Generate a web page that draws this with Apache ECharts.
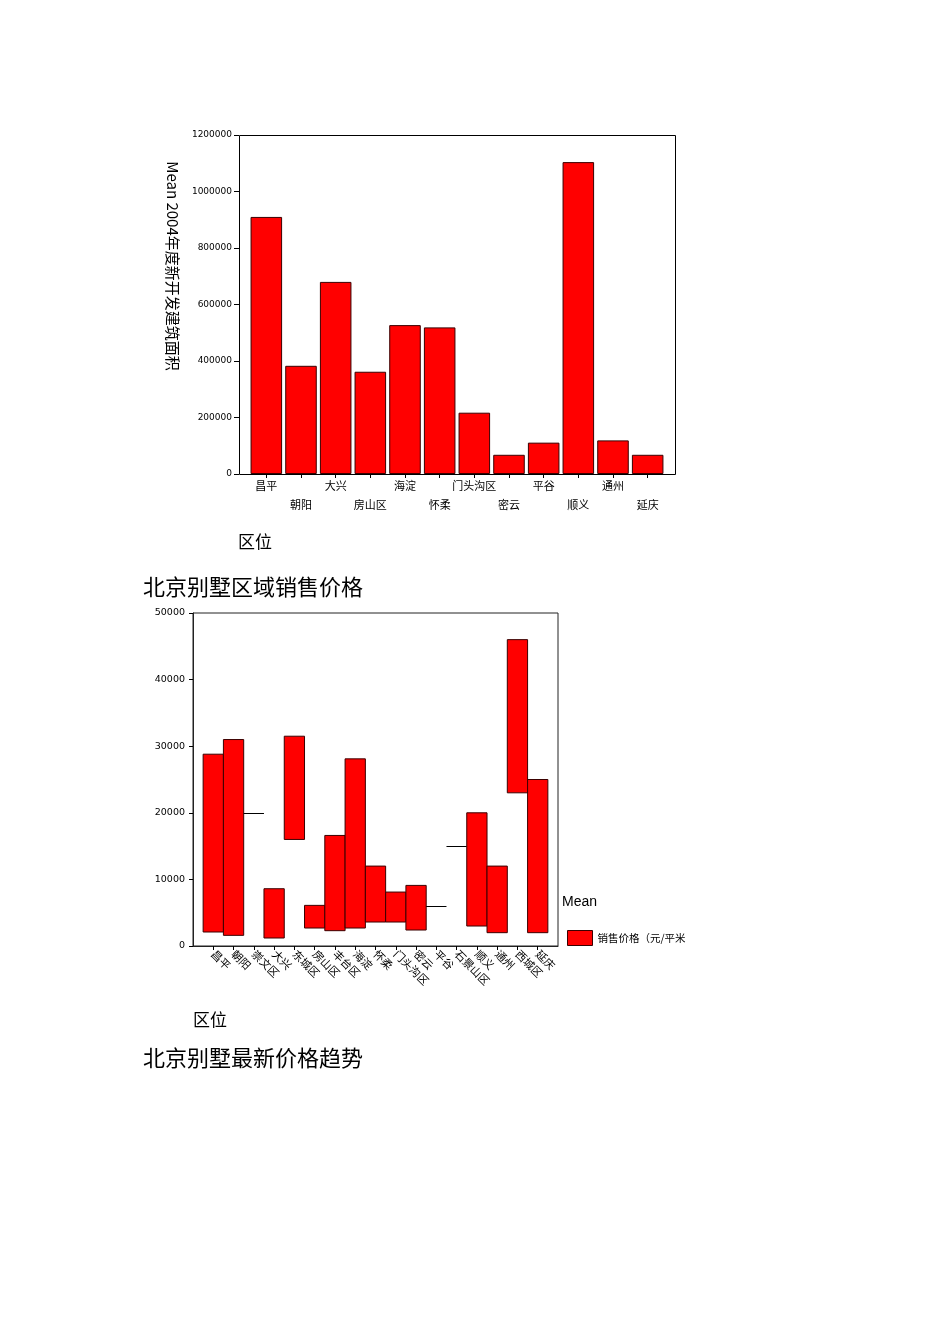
<!DOCTYPE html>
<html><head><meta charset="utf-8">
<script src="https://cdn.jsdelivr.net/npm/echarts@6/dist/echarts.min.js"></script>
<style>html,body{margin:0;padding:0;background:#fff}#c{width:950px;height:1344px}</style>
</head><body><div id="c"></div>
<script>
// Chart 1: mean 2004 newly developed floor area by district
const areaCategories = ['昌平','朝阳','大兴','房山区','海淀','怀柔','门头沟区','密云','平谷','顺义','通州','延庆'];
const areaValues = [910000,383000,680000,362000,527000,519000,217000,68000,111000,1104000,119000,68000];
const areaTicks = [0,200000,400000,600000,800000,1000000,1200000];

// Chart 2: villa sales price range (low/high) by district
const priceCategories = ['昌平','朝阳','崇文区','大兴','东城区','房山区','丰台区','海淀','怀柔','门头沟区','密云','平谷','石景山区','顺义','通州','西城区','延庆'];
const priceLow  = [2100,1600,20000,1200,16000,2700,2300,2700,3600,3600,2400,6000,15000,3000,2000,23000,2000];
const priceHigh = [28800,31000,20000,8600,31500,6100,16600,28100,12000,8100,9100,6000,15000,20000,12000,46000,25000];
const priceTicks = [0,10000,20000,30000,40000,50000];

const CJK = '"Noto Sans CJK SC"';
const NUM = '"DejaVu Sans"';

const chart = echarts.init(document.getElementById('c'), null, {renderer:'canvas'});
const priceAxis = [' '].concat(priceCategories, ['  ']);
const priceData = priceCategories.map((c, i) => [c, priceLow[i], priceHigh[i]]);
const plain = v => String(v);

chart.setOption({
  animation: false,
  backgroundColor: '#fff',
  grid: [
    {left: 249, top: 135, width: 416, height: 339, show: false},
    {left: 193, top: 613, width: 365, height: 333, show: true, borderColor: '#222', borderWidth: 1, backgroundColor: 'transparent'}
  ],
  xAxis: [
    {
      gridIndex: 0, type: 'category', data: areaCategories, boundaryGap: true,
      axisLine: {show: false},
      axisTick: {show: true, alignWithLabel: true, interval: 0, length: 4, lineStyle: {color: '#000'}},
      axisLabel: {
        interval: 0, margin: 2, fontSize: 11, lineHeight: 19, color: '#000', fontFamily: CJK,
        formatter: (v, i) => (i % 2 ? '\n' + v : v)
      },
      splitLine: {show: false}
    },
    {
      gridIndex: 1, type: 'category', data: priceAxis, boundaryGap: false,
      axisLine: {show: true, lineStyle: {color: '#222'}},
      axisTick: {show: true, length: 4, interval: (i, v) => v.trim() !== '', lineStyle: {color: '#000'}},
      axisLabel: {interval: 0, rotate: -45, margin: 6, fontSize: 11, color: '#000', fontFamily: CJK},
      splitLine: {show: false}
    }
  ],
  yAxis: [
    {
      gridIndex: 0, type: 'value', min: areaTicks[0], max: areaTicks[areaTicks.length - 1],
      interval: areaTicks[1] - areaTicks[0], offset: 10,
      axisLine: {show: false},
      axisTick: {show: true, length: 5, lineStyle: {color: '#000'}},
      axisLabel: {margin: 7, fontSize: 9, color: '#000', fontFamily: NUM, formatter: plain},
      splitLine: {show: false}
    },
    {
      gridIndex: 1, type: 'value', min: priceTicks[0], max: priceTicks[priceTicks.length - 1],
      interval: priceTicks[1] - priceTicks[0],
      axisLine: {show: true, lineStyle: {color: '#222'}},
      axisTick: {show: true, length: 4, lineStyle: {color: '#000'}},
      axisLabel: {margin: 8, fontSize: 9.5, color: '#000', fontFamily: NUM, formatter: plain},
      splitLine: {show: false}
    }
  ],
  legend: {
    left: 567, top: 930, padding: 0, itemWidth: 25, itemHeight: 15, selectedMode: false,
    textStyle: {fontSize: 10.5, color: '#000', fontFamily: CJK},
    data: [{name: '销售价格（元/平米', icon: 'rect', itemStyle: {color: '#ff0000', borderColor: '#3a0000', borderWidth: 1}}]
  },
  series: [
    {
      type: 'bar', xAxisIndex: 0, yAxisIndex: 0, data: areaValues,
      barCategoryGap: '9%',
      itemStyle: {color: '#ff0000', borderColor: '#3a0000', borderWidth: 1}
    },
    {
      type: 'custom', name: '销售价格（元/平米', xAxisIndex: 1, yAxisIndex: 1,
      data: priceData,
      encode: {x: 0, y: [1, 2]},
      itemStyle: {color: '#ff0000'},
      renderItem: function (params, api) {
        const x = api.value(0);
        const lo = api.value(1), hi = api.value(2);
        const pHi = api.coord([x, hi]);
        const pLo = api.coord([x, lo]);
        const w = api.size([1, 0])[0];
        if (hi === lo) {
          return {type: 'line', shape: {x1: pLo[0] - w / 2, y1: Math.round(pLo[1]) + 0.5, x2: pLo[0] + w / 2, y2: Math.round(pLo[1]) + 0.5},
                  style: {stroke: '#000', lineWidth: 1}};
        }
        return {type: 'rect', shape: {x: pHi[0] - w / 2, y: pHi[1], width: w, height: pLo[1] - pHi[1]},
                style: {fill: '#ff0000', stroke: '#3a0000', lineWidth: 1}};
      }
    }
  ],
  graphic: [
    {type: 'rect', shape: {x: 239.5, y: 135.5, width: 436, height: 339}, style: {fill: null, stroke: '#000', lineWidth: 1}, z: 10},
    {type: 'text', x: 173, y: 266, rotation: -Math.PI / 2,
     style: {text: 'Mean 2004年度新开发建筑面积', font: '15px ' + CJK, fill: '#000', textAlign: 'center', textVerticalAlign: 'middle'}},
    {type: 'text', x: 238, y: 542, style: {text: '区位', font: '17px ' + CJK, fill: '#000', textVerticalAlign: 'middle'}},
    {type: 'text', x: 143, y: 587, style: {text: '北京别墅区域销售价格', font: '22px ' + CJK, fill: '#000', textVerticalAlign: 'middle'}},
    {type: 'text', x: 562, y: 902, style: {text: 'Mean', font: '14px "Liberation Sans"', fill: '#000', textVerticalAlign: 'middle'}},
    {type: 'text', x: 193, y: 1020, style: {text: '区位', font: '17px ' + CJK, fill: '#000', textVerticalAlign: 'middle'}},
    {type: 'text', x: 143, y: 1058, style: {text: '北京别墅最新价格趋势', font: '22px ' + CJK, fill: '#000', textVerticalAlign: 'middle'}}
  ]
});
</script>
</body></html>
